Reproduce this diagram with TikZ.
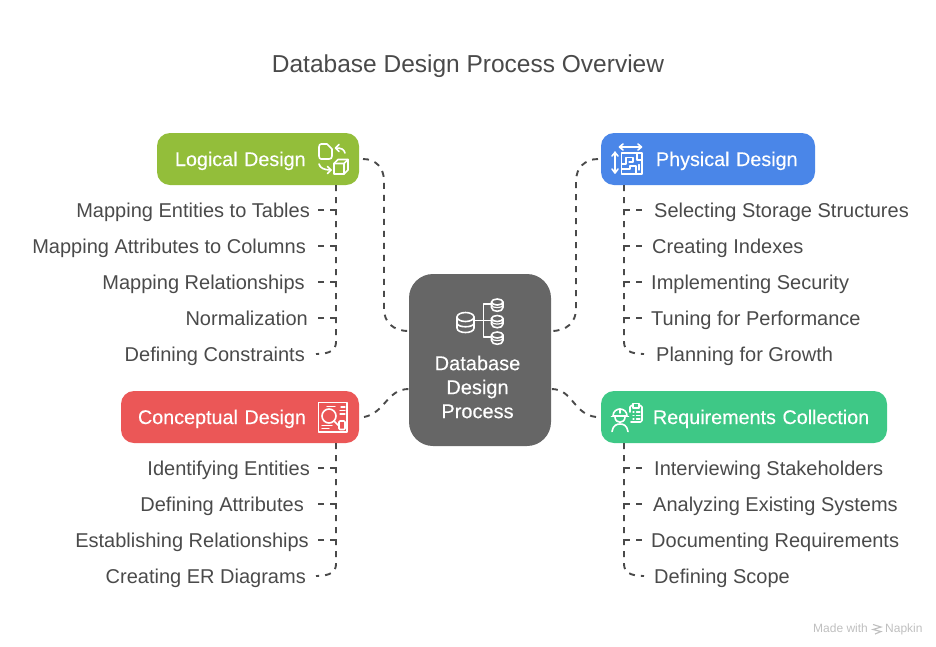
\documentclass[tikz,border=0pt]{standalone}
\usepackage{fontspec}
\setmainfont{Liberation Sans}
\newfontfamily\medfont[FakeBold=0.25]{Liberation Sans}
\usetikzlibrary{calc}
\definecolor{ink}{HTML}{4A4A4A}
\definecolor{line}{HTML}{4A4A4A}
\definecolor{cgreen}{HTML}{93BE3A}
\definecolor{cblue}{HTML}{4A86E8}
\definecolor{cred}{HTML}{EB5757}
\definecolor{cmint}{HTML}{3EC886}
\definecolor{cgrey}{HTML}{666666}
\tikzset{
  x=1pt,y=-1pt,
  base font/.style={font=\fontsize{20}{24}\selectfont},
  lab/.style={base font,text=ink,inner sep=0,text height=18pt,text depth=4pt},
  leftlab/.style={lab,anchor=east},
  rightlab/.style={lab,anchor=west},
  boxnode/.style={font=\medfont\fontsize{19.75}{24}\selectfont,text=white,inner xsep=0,inner ysep=0,minimum height=52pt,rounded corners=13pt,align=left,text height=18pt,text depth=4pt},
  conn/.style={draw=line,line width=1.9pt,dash pattern=on 6pt off 6pt},
  icon/.style={draw=white,line width=1.6pt,line cap=round,line join=round},
  iconthin/.style={draw=white,line width=1.2pt,line cap=round,line join=round},
  mark text/.style={font=\fontsize{12}{14}\selectfont,text=black!25,inner sep=0,anchor=west,text height=9pt,text depth=3pt},
}
\begin{document}
\begin{tikzpicture}
\useasboundingbox (0,0) rectangle (936,646);
\node[font=\fontsize{24.5}{28}\selectfont,text=ink,inner sep=0] (title) at (468,66) {Database Design Process Overview};

% boxes
\node[boxnode,fill=cgreen,text width=202pt] (logical) at (258,159) {\hspace*{18pt}Logical Design};
\node[boxnode,fill=cblue,text width=214pt] (physical) at (708,159) {\hspace*{55pt}Physical Design};
\node[boxnode,fill=cred,text width=238pt] (conceptual) at (240,417) {\hspace*{17pt}Conceptual Design};
\node[boxnode,fill=cmint,text width=286pt] (requirements) at (744,417) {\hspace*{52pt}Requirements Collection};
\node[fill=cgrey,rounded corners=24pt,minimum width=142pt,minimum height=172pt,inner sep=0] (center) at (480,360) {};
\node[font=\medfont\fontsize{20}{24}\selectfont,text=white,align=center,inner sep=0] (centerlabel) at (477.5,387) {Database\\Design\\Process};

% labels
\node[leftlab] (l1) at (310,210) {Mapping Entities to Tables};
\node[leftlab] (l2) at (306,246) {Mapping Attributes to Columns};
\node[leftlab] (l3) at (305,282) {Mapping Relationships};
\node[leftlab] (l4) at (308,318) {Normalization};
\node[leftlab] (l5) at (305,354) {Defining Constraints};
\node[leftlab] (c1) at (310,468) {Identifying Entities};
\node[leftlab] (c2) at (304,504) {Defining Attributes};
\node[leftlab] (c3) at (309,540) {Establishing Relationships};
\node[leftlab] (c4) at (306,576) {Creating ER Diagrams};
\node[rightlab] (p1) at (654,210) {Selecting Storage Structures};
\node[rightlab] (p2) at (652,246) {Creating Indexes};
\node[rightlab] (p3) at (651,282) {Implementing Security};
\node[rightlab] (p4) at (651,318) {Tuning for Performance};
\node[rightlab] (p5) at (656,354) {Planning for Growth};
\node[rightlab] (r1) at (654,468) {Interviewing Stakeholders};
\node[rightlab] (r2) at (653,504) {Analyzing Existing Systems};
\node[rightlab] (r3) at (651,540) {Documenting Requirements};
\node[rightlab] (r4) at (654,576) {Defining Scope};

% connector anchors
\coordinate (ltr) at (336,0);
\coordinate (ltick) at (316,0);
\coordinate (rtr) at (624,0);
\coordinate (rtick) at (644,0);
\coordinate (lgap) at (363,159);
\coordinate (pgap) at (598,159);
\coordinate (cgap) at (364,417);
\coordinate (rgap) at (596,417);

% centre connectors
\draw[conn] (lgap) .. controls (376,159) and (384,168) .. (384,181) -- (384,309) .. controls (384,322) and (393,331) .. (center.west |- 0,331);
\draw[conn] (pgap) .. controls (585,159) and (576,168) .. (576,181) -- (576,309) .. controls (576,322) and (567,331) .. (center.east |- 0,331);
\draw[conn] (cgap) .. controls (385,413) and (387,389) .. (center.west |- 0,389);
\draw[conn] (rgap) .. controls (573,414) and (573,389) .. (center.east |- 0,389);

% trunks
\draw[conn] (logical.south -| ltr) -- (336,342) .. controls (336,350) and (330,354) .. (l5.east -| ltick);
\draw[conn] (conceptual.south -| ltr) -- (336,564) .. controls (336,572) and (330,576) .. (c4.east -| ltick);
\draw[conn] (physical.south -| rtr) -- (624,342) .. controls (624,350) and (630,354) .. (p5.west -| rtick);
\draw[conn] (requirements.south -| rtr) -- (624,564) .. controls (624,572) and (630,576) .. (r4.west -| rtick);
% ticks
\foreach \n in {l1,l2,l3,l4,c1,c2,c3}{\draw[conn] (\n.east -| ltr) -- (\n.east -| ltick);}
\foreach \n in {p1,p2,p3,p4,r1,r2,r3}{\draw[conn] (\n.west -| rtr) -- (\n.west -| rtick);}

% logical icon
\draw[icon] (319,147) -- (319,156) .. controls (319,158) and (320,159) .. (321,159) -- (329,159) .. controls (331,159) and (332,158) .. (332,156) -- (332,149) -- (327,144) -- (321,144) .. controls (320,144) and (319,145) .. (319,147);
\draw[icon] (345,153) .. controls (344,149) and (341,148) .. (336,148);
\draw[icon] (339,144.5) -- (335.5,148) -- (339,151.5);
\draw[icon] (319,164) .. controls (320,168) and (324,170) .. (331,170);
\draw[icon] (327.5,166.5) -- (331,170) -- (327.5,173.5);
\draw[icon] (334,163.5) -- (338,159.5) -- (348,159.5) -- (348,170) -- (344,174) -- (334,174) -- cycle;
\draw[icon] (334,163.5) -- (344,163.5) -- (344,174) (344,163.5) -- (348,159.5);

% physical icon
\draw[icon] (620,147) -- (641,147) (623,144) -- (619.5,147) -- (623,150) (638,144) -- (641.5,147) -- (638,150);
\draw[icon] (615,152) -- (615,173) (612,156) -- (615,152.5) -- (618,156) (612,169) -- (615,173) -- (618,169);
\draw[icon] (621.5,153) rectangle (642,174);
\draw[iconthin] (621.5,164) -- (626,164) -- (626,157.5) -- (633,157.5) -- (633,162) -- (629,162) (637,153) -- (637,160) -- (642,160)
 (621.5,169) -- (630,169) -- (630,166) -- (636,166) -- (636,174) (639,164.5) -- (639,170);

% central icon
\draw[icon] (457,317) -- (457,328) .. controls (457,334) and (474,334) .. (474,328) -- (474,317);
\draw[icon] (465.5,317) ellipse [x radius=8.5,y radius=4.5];
\draw[icon] (457,323) .. controls (457,328) and (474,328) .. (474,323);
\draw[icon] (475,320.5) -- (483,320.5);
\draw[icon] (491,304) -- (483.5,304) -- (483.5,337) -- (491,337) (483.5,320.5) -- (491,320.5);
\foreach \yy in {298.5,315,331.5}{
  \draw[icon] (491.5,\yy+3.5) -- (491.5,\yy+9) .. controls (491.5,\yy+14) and (503,\yy+14) .. (503,\yy+9) -- (503,\yy+3.5);
  \draw[icon] (497.25,\yy+3.5) ellipse [x radius=5.75,y radius=3];
  \draw[iconthin] (491.5,\yy+6.5) .. controls (491.5,\yy+10) and (503,\yy+10) .. (503,\yy+6.5);
}

% conceptual icon
\draw[icon] (318.5,402.5) rectangle (347,432);
\draw[icon] (329,416) circle [radius=7];
\draw[icon] (334,421) -- (339,426);
\draw[icon,rounded corners=1pt] (339,421) rectangle (345,429.5);
\draw[iconthin] (327,406.5) -- (335,406.5) (341,407) -- (345,407) (340,410.5) -- (345,410.5) (340,414) -- (345,414) (322,425.5) -- (332,425.5) (322,428.5) -- (329,428.5);

% requirements icon
\draw[icon] (613,416) .. controls (613,411) and (617,409) .. (620,409) .. controls (624,409) and (627,412) .. (627,416) -- cycle;
\draw[icon] (611.5,416.5) -- (628.5,416.5);
\draw[icon] (615,417) .. controls (615,424) and (625,424) .. (625,417);
\draw[icon] (620,409) -- (620,413);
\draw[icon] (612,431.5) .. controls (613,425) and (617,424) .. (620,424) .. controls (623,424) and (627,425) .. (628,431.5);
\draw[icon,rounded corners=1.5pt] (630,412) -- (630,405.5) -- (642,405.5) -- (642,422) -- (631,422);
\draw[icon,fill=cmint] (633,406) -- (633,403.5) -- (639,403.5) -- (639,408) -- (633,408) -- cycle;
\draw[iconthin] (633,412) -- (634,412) (636.5,412) -- (640,412) (633,415.5) -- (634,415.5) (636.5,415.5) -- (640,415.5) (633,419) -- (634,419) (636.5,419) -- (640,419);

% watermark
\node[mark text] (made) at (813,629) {Made with};
\node[mark text] (napkin) at (885,629) {Napkin};
\draw[draw=black!25,line width=1.1pt] (873,624.5) -- (881,627) -- (873,629.5) -- (881,631.5) -- (875,634);
\end{tikzpicture}
\end{document}
